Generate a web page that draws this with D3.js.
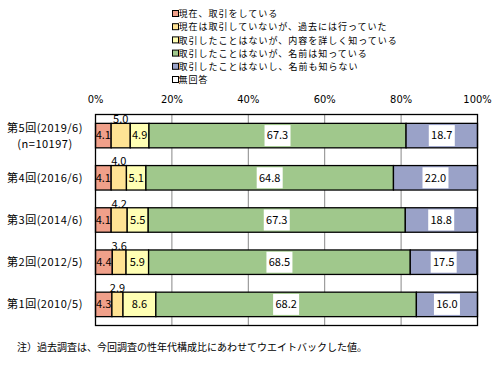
<!DOCTYPE html>
<html><head><meta charset="utf-8">
<script src="https://cdn.jsdelivr.net/npm/d3@7/dist/d3.min.js"></script>
<style>body{margin:0;background:#fff;}svg{display:block;font-family:"Noto Sans CJK JP","Noto Sans",sans-serif;}</style>
</head><body><svg id="c" width="498" height="366"></svg>
<script>
const categories = ["第5回(2019/6)","第4回(2016/6)","第3回(2014/6)","第2回(2012/5)","第1回(2010/5)"];
const seriesNames = ["現在、取引をしている","現在は取引していないが、過去には行っていた","取引したことはないが、内容を詳しく知っている","取引したことはないが、名前は知っている","取引したことはないし、名前も知らない","無回答"];
const s1 = [4.1,4.1,4.1,4.4,4.3];
const s2 = [5.0,4.0,4.2,3.6,2.9];
const s3 = [4.9,5.1,5.5,5.9,8.6];
const s4 = [67.3,64.8,67.3,68.5,68.2];
const s5 = [18.7,22.0,18.8,17.5,16.0];
const s6 = [0.0,0.0,0.1,0.1,0.0];
const ticks = [0,20,40,60,80,100];
const colors = ["#F0A08A","#FFE394","#FFFFB4","#A0C88C","#9AA2C8","#FFFFFF"];
const note = "注）過去調査は、今回調査の性年代構成比にあわせてウエイトバックした値。";

const series=[s1,s2,s3,s4,s5,s6];
const svg=d3.select("#c");
const x=d3.scaleLinear().domain([0,100]).range([95.5,477.5]);
const y=d3.scaleBand().domain(categories).range([114.5,325.5]).paddingInner(0.42).paddingOuter(0.21);

// legend
const lg=svg.append("g");
seriesNames.forEach((n,i)=>{
  const yy=14+i*13.2;
  lg.append("rect").attr("x",172.5).attr("y",yy-3.5).attr("width",6).attr("height",6)
    .attr("fill",colors[i]).attr("stroke","#000").attr("stroke-width",1);
  lg.append("text").attr("x",178.5).attr("y",yy).attr("dy","0.35em").attr("font-size",9)
    .attr("letter-spacing",1).text(n);
});

// grid
svg.append("g").selectAll("line").data(ticks.slice(1,-1)).join("line")
  .attr("x1",d=>x(d)).attr("x2",d=>x(d)).attr("y1",114.5).attr("y2",325.5)
  .attr("stroke","#888").attr("stroke-width",1);

// tick labels
svg.append("g").selectAll("text").data(ticks).join("text")
  .attr("x",d=>x(d)).attr("y",99).attr("dy","0.35em").attr("text-anchor","middle")
  .attr("font-size",11).attr("font-family","'Liberation Sans Narrow','DejaVu Sans Condensed',sans-serif").text(d=>d+"%");

// bars
const stackData=categories.map((c,j)=>{let acc=0;return series.map((s,i)=>{const r={c,i,v:s[j],x0:acc,x1:acc+s[j]};acc+=s[j];return r;});});
const bg=svg.append("g");
stackData.forEach(row=>{
  row.forEach(d=>{
    if(d.v<=0) return;
    bg.append("rect").attr("x",x(d.x0)).attr("y",y(d.c)).attr("width",x(d.x1)-x(d.x0)).attr("height",y.bandwidth())
      .attr("fill",colors[d.i]).attr("stroke","#000").attr("stroke-width",1.3);
  });
});
// labels
const lbl=svg.append("g").attr("font-size",11);
stackData.forEach(row=>{
  row.forEach(d=>{
    if(d.i>4) return;
    const cx=(x(d.x0)+x(d.x1))/2, cy=y(d.c)+y.bandwidth()/2;
    const t=d.v.toFixed(1);
    if(d.i===1){
      lbl.append("text").attr("x",cx).attr("y",y(d.c)-4).attr("text-anchor","middle").attr("dy","0.35em").text(t);
    } else {
      if(d.i>=3){
        lbl.append("rect").attr("x",cx-13).attr("y",cy-10.5).attr("width",26).attr("height",21).attr("fill","#fff");
      }
      lbl.append("text").attr("x",cx).attr("y",cy).attr("text-anchor","middle").attr("dy","0.35em").text(t);
    }
  });
});
// frame
svg.append("rect").attr("x",95.5).attr("y",114.5).attr("width",382).attr("height",211)
  .attr("fill","none").attr("stroke","#000").attr("stroke-width",1.3);

// category labels
const cl=svg.append("g").attr("font-size",11).attr("letter-spacing",0.5);
categories.forEach((c,j)=>{
  const cy=y(c)+y.bandwidth()/2;
  if(j===0){
    cl.append("text").attr("x",45).attr("y",cy-7.5).attr("dy","0.35em").attr("text-anchor","middle").text(c);
    cl.append("text").attr("x",45).attr("y",cy+8.5).attr("dy","0.35em").attr("text-anchor","middle").text("(n=10197)");
  } else {
    cl.append("text").attr("x",45).attr("y",cy).attr("dy","0.35em").attr("text-anchor","middle").text(c);
  }
});

svg.append("text").attr("x",17).attr("y",347).attr("dy","0.35em").attr("font-size",10).text(note);
</script></body></html>
